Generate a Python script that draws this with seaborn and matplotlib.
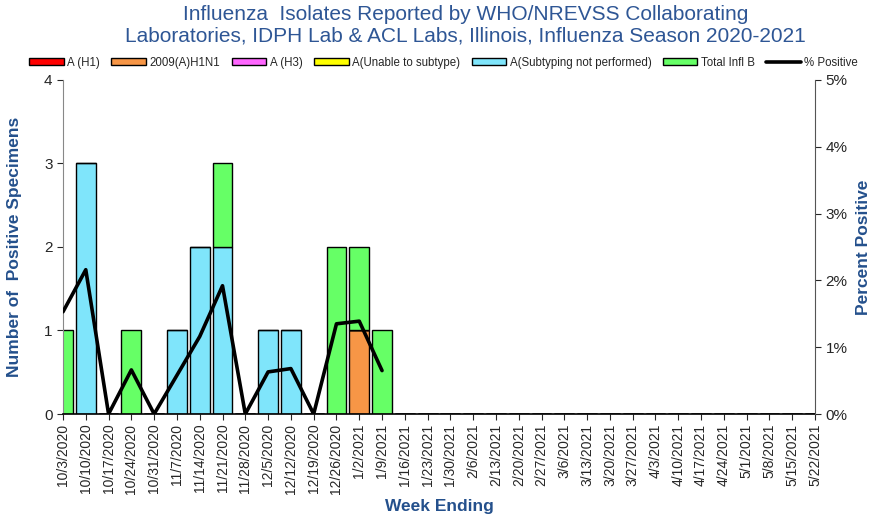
import numpy as np
import pandas as pd
import matplotlib
matplotlib.use('Agg')
import matplotlib.pyplot as plt
import seaborn as sns
from matplotlib.patches import Patch
from matplotlib.lines import Line2D

# Week ending labels
weeks = ['10/3/2020', '10/10/2020', '10/17/2020', '10/24/2020', '10/31/2020', '11/7/2020',
         '11/14/2020', '11/21/2020', '11/28/2020', '12/5/2020', '12/12/2020', '12/19/2020',
         '12/26/2020', '1/2/2021', '1/9/2021', '1/16/2021', '1/23/2021', '1/30/2021',
         '2/6/2021', '2/13/2021', '2/20/2021', '2/27/2021', '3/6/2021', '3/13/2021',
         '3/20/2021', '3/27/2021', '4/3/2021', '4/10/2021', '4/17/2021', '4/24/2021',
         '5/1/2021', '5/8/2021', '5/15/2021', '5/22/2021']

# Counts per subtype (stacked in this order)
a_h1 = [0] * 34
h1n1_2009 = [0, 0, 0, 0, 0, 0, 0, 0, 0, 0, 0, 0, 0, 1, 0] + [0] * 19
a_h3 = [0] * 34
a_unable = [0] * 34
a_not_subtyped = [0, 3, 0, 0, 0, 1, 2, 2, 0, 1, 1, 0, 0, 0, 0] + [0] * 19
infl_b = [1, 0, 0, 1, 0, 0, 0, 1, 0, 0, 0, 0, 2, 1, 1] + [0] * 19

# Percent positive (only reported through 1/9/2021)
pct_positive = [1.53, 2.16, 0.0, 0.66, 0.0, 0.58, 1.16, 1.92, 0.0, 0.63, 0.68, 0.0,
                1.35, 1.39, 0.65]

series = [('A (H1)', a_h1, '#FF0000'),
          ('2009(A)H1N1', h1n1_2009, '#F79646'),
          ('A (H3)', a_h3, '#FF66FF'),
          ('A(Unable to subtype)', a_unable, '#FFFF00'),
          ('A(Subtyping not performed)', a_not_subtyped, '#7FE5FB'),
          ('Total Infl B', infl_b, '#66FF66')]

sns.set_style('white')
plt.rcParams['font.family'] = ['Liberation Sans', 'DejaVu Sans']

title_color = '#2E5695'
label_color = '#24508C'

fig = plt.figure(figsize=(8.7, 5.19), dpi=100)
ax = fig.add_axes([0.0724, 0.2023, 0.8644, 0.6436])

x = np.arange(len(weeks))
bottom = np.zeros(len(weeks))
for name, vals, color in series:
    vals = np.array(vals, dtype=float)
    ax.bar(x, vals, bottom=bottom, width=0.87, color=color, edgecolor='black',
           linewidth=1.0, zorder=2)
    bottom += vals

ax.set_xlim(0, len(weeks) - 1)
ax.set_ylim(0, 4)
ax.set_yticks([0, 1, 2, 3, 4])
ax.set_xticks(x)
ax.set_xticklabels(weeks, rotation=90, fontsize=10)
ax.tick_params(axis='y', labelsize=11, length=4, direction='out', left=True)
ax.tick_params(axis='x', length=4, direction='out', bottom=True, pad=3)
for s in ['top', 'right']:
    ax.spines[s].set_visible(False)
ax.spines['left'].set_color('#888888')
ax.spines['bottom'].set_color('black')
ax.spines['bottom'].set_linewidth(1.2)

ax.set_ylabel('Number of  Positive Specimens', fontsize=12.5, fontweight='bold',
              color=label_color, labelpad=16)
ax.set_xlabel('Week Ending', fontsize=12.5, fontweight='bold', color=label_color, labelpad=4)

ax2 = ax.twinx()
df_line = pd.DataFrame({'x': x[:len(pct_positive)], 'pct': pct_positive})
sns.lineplot(data=df_line, x='x', y='pct', ax=ax2, color='black', linewidth=2.6, zorder=3)
ax2.set_ylim(0, 5)
ax2.set_yticks([0, 1, 2, 3, 4, 5])
ax2.set_yticklabels([f'{v}%' for v in range(6)])
ax2.tick_params(axis='y', labelsize=11, length=4, direction='out', right=True)
ax2.set_xlim(0, len(weeks) - 1)
ax2.set_ylabel('Percent Positive', fontsize=12.5, fontweight='bold', color=label_color,
               labelpad=6)
ax2.set_xlabel('')
for s in ['top', 'left', 'bottom']:
    ax2.spines[s].set_visible(False)
ax2.spines['right'].set_color('#555555')

handles = [Patch(facecolor=c, edgecolor='black', label=n) for n, _, c in series]
handles.append(Line2D([0], [0], color='black', linewidth=2.6, label='% Positive'))
fig.legend(handles=handles, loc='center', bbox_to_anchor=(0.51, 0.879), ncol=7,
           frameon=False, fontsize=8.3, handlelength=3.0, handleheight=0.6,
           handletextpad=0.3, columnspacing=1.0)

fig.suptitle('Influenza  Isolates Reported by WHO/NREVSS Collaborating\n'
             'Laboratories, IDPH Lab & ACL Labs, Illinois, Influenza Season 2020-2021',
             fontsize=15, color=title_color, x=0.535, y=0.99, linespacing=1.15)

fig.savefig('out.png', dpi=100)
